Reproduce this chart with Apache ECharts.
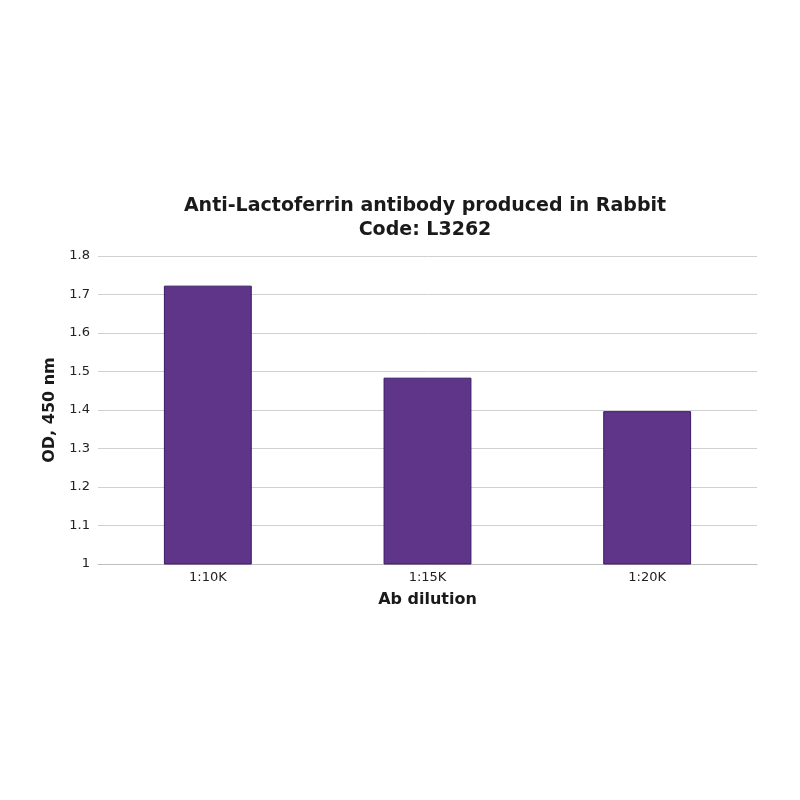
<!DOCTYPE html>
<html>
<head>
<meta charset="utf-8">
<script src="https://cdn.jsdelivr.net/npm/echarts@6/dist/echarts.min.js"></script>
<style>
  html, body { margin: 0; padding: 0; background: #fff; }
  #chart { width: 800px; height: 800px; }
</style>
</head>
<body>
<div id="chart"></div>
<script>
const categories = ['1:10K', '1:15K', '1:20K'];
const odValues = [1.723, 1.484, 1.397];

const chart = echarts.init(document.getElementById('chart'));
const option = {
    animation: false,
    textStyle: { fontFamily: 'DejaVu Sans' },
    title: {
        text: 'Anti-Lactoferrin antibody produced in Rabbit\nCode: L3262',
        left: 420,
        textAlign: 'center',
        top: 189,
        textStyle: { fontSize: 19, fontWeight: 'bold', color: '#1a1a1a', lineHeight: 24, fontFamily: 'DejaVu Sans' }
    },
    grid: { left: 98, right: 43, top: 256, bottom: 236 },
    xAxis: {
        type: 'category',
        data: categories,
        name: 'Ab dilution',
        nameLocation: 'middle',
        nameGap: 28,
        nameTextStyle: { fontSize: 16, fontWeight: 'bold', color: '#1a1a1a' },
        axisLine: { lineStyle: { color: '#bfbfbf' } },
        axisTick: { show: false },
        axisLabel: { fontSize: 13, color: '#222', margin: 7 }
    },
    yAxis: {
        type: 'value',
        min: 1,
        max: 1.8,
        interval: 0.1,
        name: 'OD, 450 nm',
        nameLocation: 'middle',
        nameGap: 40,
        nameTextStyle: { fontSize: 16, fontWeight: 'bold', color: '#1a1a1a' },
        axisLine: { show: false },
        axisTick: { show: false },
        axisLabel: {
            fontSize: 13, color: '#222', margin: 8,
            formatter: function (v) { return String(Math.round(v * 10) / 10); }
        },
        splitLine: { lineStyle: { color: '#d0d0d0' } }
    },
    series: [{
        type: 'bar',
        data: odValues,
        barWidth: '40%',
        itemStyle: { color: '#5e3589', borderColor: '#3a1a66', borderWidth: 1 }
    }]
};
chart.setOption(option);
</script>
</body>
</html>
